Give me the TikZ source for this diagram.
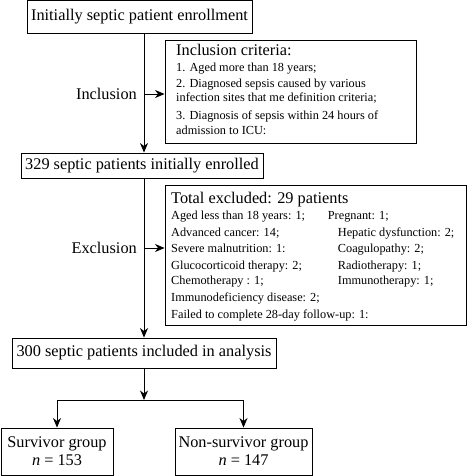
\documentclass[tikz,border=0pt]{standalone}
\usepackage{fontspec}
\setmainfont{Liberation Serif}
\usetikzlibrary{arrows.meta}
\begin{document}
\begin{tikzpicture}[x={(1pt,0pt)},y={(0pt,-1pt)},
  box/.style={draw, line width=0.9pt, inner sep=0pt},
  big/.style={font=\fontsize{16.3}{19}\selectfont},
  small/.style={font=\fontsize{12.3}{14}\selectfont},
  ln/.style={anchor=base west, inner sep=0pt, small},
  hd/.style={anchor=base west, inner sep=0pt, big},
  conn/.style={line width=0.9pt},
  arr/.style={conn, -{Stealth[length=9.5pt,width=8pt,inset=3pt]}}]
\useasboundingbox (0,0) rectangle (467,476);
% main boxes
\node[box, big, minimum width=225pt, minimum height=33pt] (n1) at (139.5,17) {Initially septic patient enrollment};
\node[box, minimum width=251pt, minimum height=103pt] (inc) at (290.5,91.5) {};
\node[box, big, minimum width=242pt, minimum height=25pt] (n329) at (142,165.5) {329 septic patients initially enrolled};
\node[box, minimum width=301pt, minimum height=140pt] (exc) at (315.5,255) {};
\node[box, big, minimum width=264pt, minimum height=30pt] (n300) at (144,353) {300 septic patients included in analysis};
\node[box, big, align=center, minimum width=112pt, minimum height=47pt] (surv) at (57,451.5) {Survivor group\\[-1pt] \textit{n} = 153};
\node[box, big, align=center, minimum width=137pt, minimum height=47pt] (non) at (243.5,451.5) {Non-survivor group\\[-1pt] \textit{n} = 147};
% inclusion text
\node[hd] (it) at (176,55.7) {Inclusion criteria:};
\node[ln] (i1) at (176,71.7) {1. Aged more than 18 years;};
\node[ln] (i2) at (176,87.3) {2. Diagnosed sepsis caused by various};
\node[ln] (i3) at (176,101.7) {infection sites that me definition criteria;};
\node[ln] (i4) at (176,119) {3. Diagnosis of sepsis within 24 hours of};
\node[ln] (i5) at (176,135) {admission to ICU:};
% exclusion text
\node[hd] (et) at (171,203.3) {Total excluded: 29 patients};
\node[ln] (e1) at (171,219.3) {Aged less than 18 years: 1;};
\node[ln] (e1b) at (327.7,219.3) {Pregnant: 1;};
\node[ln] (e2) at (171,236) {Advanced cancer: 14;};
\node[ln] (e2b) at (337.7,236) {Hepatic dysfunction: 2;};
\node[ln] (e3) at (171,252.3) {Severe malnutrition: 1:};
\node[ln] (e3b) at (337.7,252.3) {Coagulopathy: 2;};
\node[ln] (e4) at (171,269) {Glucocorticoid therapy: 2;};
\node[ln] (e4b) at (337.7,269) {Radiotherapy: 1;};
\node[ln] (e5) at (171,284) {Chemotherapy : 1;};
\node[ln] (e5b) at (337.7,284) {Immunotherapy: 1;};
\node[ln] (e6) at (171,301) {Immunodeficiency disease: 2;};
\node[ln] (e7) at (171,318.3) {Failed to complete 28-day follow-up: 1:};
% side labels
\node[big, inner sep=0pt, anchor=east] (inclab) at (137,94) {Inclusion};
\node[big, inner sep=0pt, anchor=east] (exclab) at (137,248) {Exclusion};
% spine
\coordinate (spine) at (144,0);
\coordinate (split) at (144,400);
\coordinate (ia) at (144,94);
\coordinate (ea) at (144,248);
% connectors
\draw[arr] (spine |- n1.south) -- (spine |- n329.north);
\draw[arr] (ia) -- (ia -| inc.west);
\draw[arr] (spine |- n329.south) -- (spine |- n300.north);
\draw[arr] (ea) -- (ea -| exc.west);
\draw[arr] (spine |- n300.south) -- (split);
\draw[conn] (surv.north |- split) -- (non.north |- split);
\draw[arr] (surv.north |- split) -- (surv.north);
\draw[arr] (non.north |- split) -- (non.north);
\end{tikzpicture}
\end{document}
